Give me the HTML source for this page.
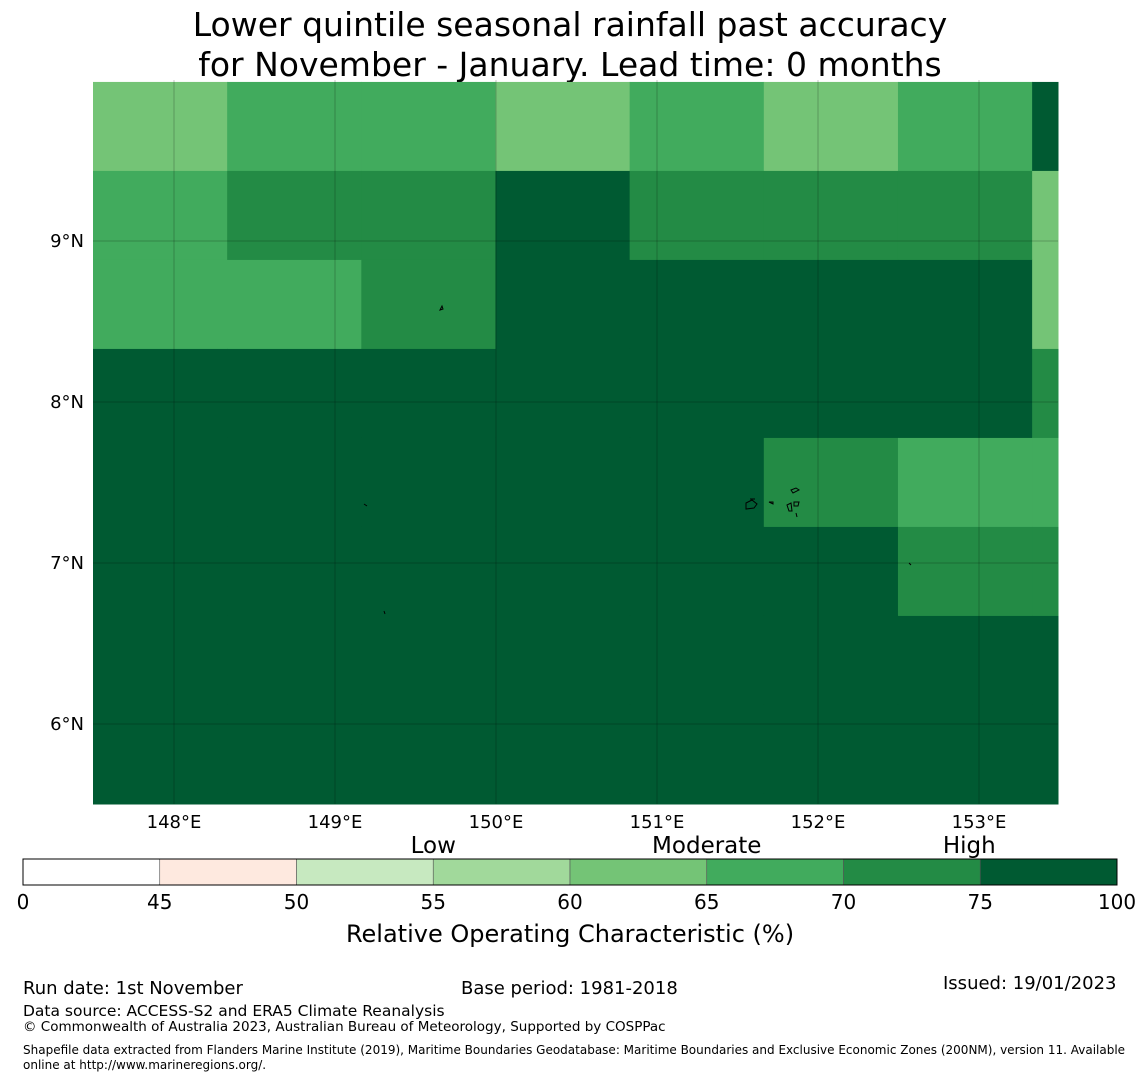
<!DOCTYPE html>
<html><head><meta charset="utf-8"><style>
body{margin:0;background:#fff;font-family:"Liberation Sans","DejaVu Sans",sans-serif;}
</style></head><body>
<svg id="chart" width="1140" height="1080" xmlns="http://www.w3.org/2000/svg" style="font-family:'DejaVu Sans','Liberation Sans',sans-serif">
<text x="570" y="36" font-size="33" text-anchor="middle">Lower quintile seasonal rainfall past accuracy</text>
<text x="570" y="76" font-size="33" text-anchor="middle">for November - January. Lead time: 0 months</text>
<g id="cells"></g>
<g id="grid"></g>
<g id="islands" fill="none" stroke="#000" stroke-width="1">
<path d="M746 503 l6 -3 l5 4 l-3 4 l-8 1 z M750 499 l5 0 M769 502 l4 0 l0 2 z M791 490 l5 -2 l3 2 l-6 3 z M787 505 l4 -2 l1 8 l-3 0 z M794 502 l5 0 l-1 4 l-4 0 z M796 513 l1 4"/>
<path d="M440 310 l2 -4 l1 3 z M364 504 l3 2 M384 611 l1 3 M909 563 l2 2"/>
</g>
<g id="axes" font-size="18"></g>
<g id="cbar"></g>
<text x="570" y="942" font-size="24" text-anchor="middle">Relative Operating Characteristic (%)</text>
<g font-size="18">
<text x="23" y="994">Run date: 1st November</text>
<text x="461" y="994">Base period: 1981-2018</text>
<text x="943" y="989">Issued: 19/01/2023</text>
<text x="23" y="1016" font-size="15.5">Data source: ACCESS-S2 and ERA5 Climate Reanalysis</text>
<text x="23" y="1031" font-size="13.5">© Commonwealth of Australia 2023, Australian Bureau of Meteorology, Supported by COSPPac</text>
<text x="23" y="1054" font-size="12">Shapefile data extracted from Flanders Marine Institute (2019), Maritime Boundaries Geodatabase: Maritime Boundaries and Exclusive Economic Zones (200NM), version 11. Available</text>
<text x="23" y="1069" font-size="12">online at http://www.marineregions.org/.</text>
</g>
</svg>
<script>
const values = [
 [62,67,67,62,67,62,67,80],
 [67,72,72,80,72,72,72,62],
 [67,67,72,80,80,80,80,62],
 [80,80,80,80,80,80,80,72],
 [80,80,80,80,80,72,67,67],
 [80,80,80,80,80,80,72,72],
 [80,80,80,80,80,80,80,80],
 [80,80,80,80,80,80,80,80],
 [80,80,80,80,80,80,80,80]
];
const bounds = [0,45,50,55,60,65,70,75,100];
const binColors = ["#ffffff","#fee9df","#c7e9c0","#a1d99b","#74c476","#41ab5d","#238b45","#005a32"];
const lonTicks = [148,149,150,151,152,153];
const latTicks = [9,8,7,6];
const catLabels = ["Low","Moderate","High"];
const catPos = [55,65,74.6];

const NS="http://www.w3.org/2000/svg";
const mapL=93,mapR=1058,mapT=80,mapB=804;
const lonX=l=>174+(l-148)*161;
const latY=l=>241+(9-l)*161;
const lon0=147.4969, lat0=9.988, cellLon=0.8333, cellLat=0.5528;
function mk(t,a,p){const e=document.createElementNS(NS,t);for(const k in a)e.setAttribute(k,a[k]);p.appendChild(e);return e;}
function colorFor(v){for(let i=0;i<bounds.length-1;i++){if(v<bounds[i+1])return binColors[i];}return binColors[binColors.length-1];}
const cells=document.getElementById('cells');
values.forEach((row,r)=>row.forEach((v,c)=>{
  const x0=Math.max(mapL,lonX(lon0+c*cellLon)),x1=Math.min(mapR,lonX(lon0+(c+1)*cellLon));
  const y0=Math.max(mapT,latY(lat0-r*cellLat)),y1=Math.min(mapB,latY(lat0-(r+1)*cellLat));
  if(x1<=x0||y1<=y0)return;
  const e=mk('rect',{x:x0,y:y0,width:x1-x0+0.5,height:y1-y0+0.5,fill:colorFor(v)},cells);
  
  
}));
const grid=document.getElementById('grid'),axes=document.getElementById('axes');
lonTicks.forEach(l=>{
  const x=lonX(l);
  const g=mk('line',{x1:x,x2:x,y1:mapT,y2:mapB,stroke:'#000','stroke-opacity':0.22,'stroke-width':1},grid);
  
  
  const t=mk('text',{x:x,y:828,'text-anchor':'middle'},axes);t.textContent=l+'°E';
  
  
});
latTicks.forEach(l=>{
  const y=latY(l);
  const g=mk('line',{x1:mapL,x2:mapR,y1:y,y2:y,stroke:'#000','stroke-opacity':0.22,'stroke-width':1},grid);
  
  
  const t=mk('text',{x:84,y:y+6,'text-anchor':'end'},axes);t.textContent=l+'°N';
  
  
});
const cb=document.getElementById('cbar');
const cbL=23,cbR=1117,cbT=859,cbB=885,segW=(cbR-cbL)/(bounds.length-1);
binColors.forEach((col,i)=>{
  const e=mk('rect',{x:cbL+i*segW,y:cbT,width:segW,height:cbB-cbT,fill:col,stroke:'#555','stroke-width':0.6},cb);
  
  
});
mk('rect',{x:cbL,y:cbT,width:cbR-cbL,height:cbB-cbT,fill:'none',stroke:'#000','stroke-width':1},cb);
bounds.forEach((b,i)=>{
  const t=mk('text',{x:cbL+i*segW,y:909,'font-size':20,'text-anchor':'middle'},cb);t.textContent=b;
  
  
});
const bx=v=>{for(let i=0;i<bounds.length-1;i++){if(v<=bounds[i+1])return cbL+(i+(v-bounds[i])/(bounds[i+1]-bounds[i]))*segW;}return cbR;};
catLabels.forEach((c,i)=>{
  const t=mk('text',{x:bx(catPos[i]),y:853,'font-size':23,'text-anchor':'middle'},cb);t.textContent=c;
  
  
});
</script>
</body></html>
